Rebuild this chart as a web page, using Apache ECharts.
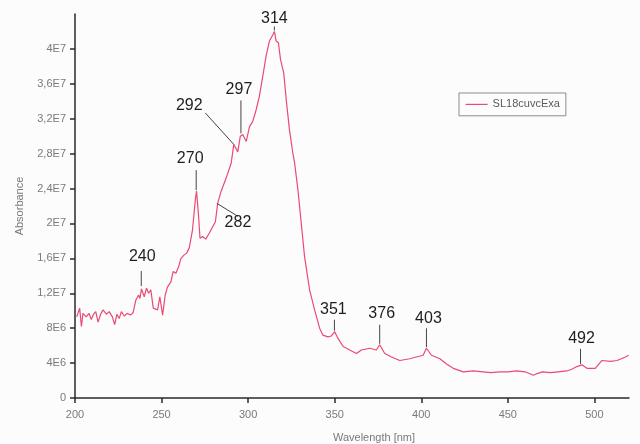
<!DOCTYPE html>
<html>
<head>
<meta charset="utf-8">
<script src="https://cdn.jsdelivr.net/npm/echarts@6/dist/echarts.min.js"></script>
<style>
  html, body { margin: 0; padding: 0; background: #fcfcfc; }
  #chart { width: 640px; height: 444px; }
</style>
</head>
<body>
<div id="chart"></div>
<script>
// Absorbance spectrum of SL18cuvcExa (wavelength in nm, absorbance in units of 1E6)
const wavelengths = [
  201, 202.7, 203.7, 204.6, 206.5, 208.1, 209.4, 210.7, 212, 213.3,
  214.8, 216.2, 218.1, 219.8, 221.6, 222.9, 224.2, 225.5, 226.8, 228.4,
  230.1, 232, 233.6, 235.1, 236.7, 237.5, 238.4, 240, 241.3, 242.5,
  243.8, 245.2, 247.7, 249, 250.6, 252.1, 253.4, 255.4, 256.7, 258.3,
  259.8, 261.2, 263.1, 264.5, 266, 267.9, 269.5, 270.2, 271.4, 272.2,
  273.7, 275.5, 277.6, 281.1, 282.4, 284.4, 287.3, 290.2, 291.7, 293,
  294, 295.5, 296.9, 298.9, 300.8, 302.7, 304.6, 306.5, 308.5, 310.4,
  312.3, 314.2, 315.2, 316.2, 317.5, 318.7, 320.6, 322, 323.9, 325.8,
  326.8, 328.8, 330.7, 332.6, 335.5, 338.4, 341.3, 343.2, 346.1, 348,
  350, 352, 354.9, 358.7, 362.6, 365.4, 370.2, 374.1, 376, 378.9,
  382.8, 387.6, 393.4, 397.2, 401.1, 403, 405.9, 410.8, 414.6, 418.5,
  424.3, 430, 435.8, 440, 445.5, 450, 455.2, 460, 464.8, 467,
  470, 474.5, 479, 484.1, 487, 489.9, 492.8, 495.7, 500.5, 504.4,
  509.2, 513.1, 517.9, 519.8
];
const absorbanceE6 = [
  9.3, 10.3, 8.2, 9.7, 9.3, 9.7, 9.0, 9.6, 9.9, 8.7,
  9.6, 10.1, 9.6, 9.9, 9.3, 8.4, 9.6, 9.1, 9.9, 9.4,
  9.7, 9.5, 9.8, 11.2, 11.8, 11.4, 12.5, 11.6, 12.6, 12.0,
  12.4, 10.3, 10.1, 11.6, 9.5, 11.8, 12.7, 13.3, 14.5, 14.3,
  15.0, 16.0, 16.4, 16.6, 17.2, 19.3, 22.7, 23.7, 20.8, 18.3,
  18.5, 18.2, 18.9, 20.2, 22.3, 23.7, 25.2, 26.9, 29.0, 28.6,
  28.2, 30.0, 30.2, 29.4, 31.1, 31.7, 33.0, 34.6, 36.9, 39.2,
  40.9, 41.6, 42.0, 40.9, 40.7, 38.8, 37.2, 34.2, 30.7, 28.1,
  27.0, 23.8, 20.0, 16.2, 12.4, 10.1, 8.0, 7.2, 7.0, 7.1,
  7.6, 6.8, 5.9, 5.5, 5.1, 5.5, 5.7, 5.5, 6.1, 5.1,
  4.7, 4.3, 4.5, 4.7, 4.9, 5.7, 4.9, 4.5, 3.9, 3.4,
  3.0, 3.1, 3.0, 2.9, 3.0, 3.0, 3.1, 3.0, 2.6, 2.8,
  3.0, 2.9, 3.0, 3.1, 3.3, 3.6, 3.8, 3.4, 3.4, 4.3,
  4.2, 4.3, 4.7, 4.9
];

// Peak annotations (nm)
const peakLabels = [240, 270, 282, 292, 297, 314, 351, 376, 403, 492];

// Axis ticks
const xTickValues = [200, 250, 300, 350, 400, 450, 500];
const yTickValues = [0, 4e6, 8e6, 1.2e7, 1.6e7, 2e7, 2.4e7, 2.8e7, 3.2e7, 3.6e7, 4e7];
const yTickLabels = ['0', '4E6', '8E6', '1,2E7', '1,6E7', '2E7', '2,4E7', '2,8E7', '3,2E7', '3,6E7', '4E7'];

const seriesName = 'SL18cuvcExa';

// Leader line and text offsets (px) relative to each peak point:
// [lineX1, lineY1, lineX2, lineY2, textX, textY]
const peakLayout = {
  240: [-3, -2, -3, -17, -2, -31],
  270: [0, -1, 0, -21, -6, -33],
  282: [0, 0, 21, 13, 21, 19],
  292: [0, 0, -29, -32, -45, -39],
  297: [-2, -1, -2, -34, -4, -45],
  314: [2, -1, 2, -5, 2, -13],
  351: [-2, -1, -2, -12, -3, -22],
  376: [0, -1, 0, -20, 2, -31],
  403: [0, -1, 0, -20, 2, -30],
  492: [0, -1, 0, -16, 1, -26]
};

const spectrum = wavelengths.map((w, i) => [w, absorbanceE6[i] * 1e6]);

// Peak height = highest sample within 1.5 nm of the labelled wavelength
function peakHeight(wl) {
  let best = -Infinity;
  spectrum.forEach(p => {
    if (Math.abs(p[0] - wl) <= 1.5 && p[1] > best) best = p[1];
  });
  return best;
}
const peakData = peakLabels.map(wl => [wl, peakHeight(wl)]);

const axisColor = '#2a2a2a';
const labelColor = '#7a7a7a';
const lineColor = '#ea4a74';
const fontFamily = 'Liberation Sans, Arial, Helvetica, sans-serif';

const chart = echarts.init(document.getElementById('chart'), null, { renderer: 'canvas' });

chart.setOption({
  backgroundColor: '#fcfcfc',
  animation: false,
  grid: { left: 75, right: 11, top: 14, bottom: 46, containLabel: false, outerBoundsMode: 'none' },
  legend: {
    left: 459,
    top: 93,
    padding: [5, 6, 5, 6],
    borderColor: '#8c8c8c',
    borderWidth: 1,
    itemWidth: 22,
    itemHeight: 16,
    itemGap: 5,
    itemStyle: { opacity: 0 },
    lineStyle: { color: lineColor, width: 1.2 },
    textStyle: { fontSize: 11, color: '#5a5a5a', fontFamily: fontFamily },
    data: [seriesName]
  },
  xAxis: {
    type: 'value',
    min: 200,
    max: 520,
    interval: 50,
    name: 'Wavelength [nm]',
    nameLocation: 'middle',
    nameGap: 34,
    nameTextStyle: { fontSize: 11, color: labelColor, fontFamily: fontFamily, padding: [0, 0, 0, 44] },
    axisLine: { show: true, onZero: false, lineStyle: { color: axisColor, width: 1.5 } },
    axisTick: { show: true, length: 5, customValues: xTickValues, lineStyle: { color: axisColor, width: 1.5 } },
    axisLabel: {
      customValues: xTickValues,
      margin: 11,
      fontSize: 11,
      color: labelColor,
      fontFamily: fontFamily
    },
    splitLine: { show: false }
  },
  yAxis: {
    type: 'value',
    min: 0,
    max: 4.4e7,
    interval: 4e6,
    name: 'Absorbance',
    nameLocation: 'middle',
    nameGap: 50,
    nameRotate: 90,
    nameTextStyle: { fontSize: 11, color: labelColor, fontFamily: fontFamily },
    axisLine: { show: true, onZero: false, lineStyle: { color: axisColor, width: 1.5 } },
    axisTick: { show: true, length: 5, customValues: yTickValues, lineStyle: { color: axisColor, width: 1.5 } },
    axisLabel: {
      customValues: yTickValues,
      margin: 9,
      fontSize: 11,
      color: labelColor,
      fontFamily: fontFamily,
      formatter: v => {
        const i = yTickValues.findIndex(t => Math.abs(t - v) < 1);
        return i >= 0 ? yTickLabels[i] : '';
      }
    },
    splitLine: { show: false }
  },
  series: [
    {
      name: seriesName,
      type: 'line',
      data: spectrum,
      symbol: 'none',
      smooth: false,
      lineStyle: { color: lineColor, width: 1.2 },
      itemStyle: { color: lineColor },
      z: 3
    },
    {
      name: 'peaks',
      type: 'custom',
      coordinateSystem: 'cartesian2d',
      data: peakData,
      silent: true,
      clip: false,
      z: 5,
      renderItem: (params, api) => {
        const wl = api.value(0);
        const p = api.coord([wl, api.value(1)]);
        const L = peakLayout[wl];
        return {
          type: 'group',
          children: [
            {
              type: 'line',
              shape: { x1: p[0] + L[0], y1: p[1] + L[1], x2: p[0] + L[2], y2: p[1] + L[3] },
              style: { stroke: '#444', lineWidth: 1 }
            },
            {
              type: 'text',
              x: p[0] + L[4],
              y: p[1] + L[5],
              style: {
                text: String(wl),
                fill: '#1e1e1e',
                fontSize: 16,
                fontFamily: fontFamily,
                align: 'center',
                verticalAlign: 'middle'
              }
            }
          ]
        };
      }
    }
  ]
});
</script>
</body>
</html>
